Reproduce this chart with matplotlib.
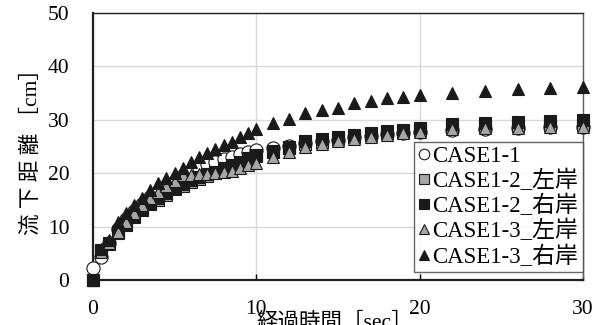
import numpy as np
import matplotlib.pyplot as plt
from matplotlib.lines import Line2D

plt.rcParams['font.family'] = ['Liberation Serif', 'Noto Sans CJK JP']

# === time axis [sec]: 0.5 s steps to 10, 1 s to 20, 2 s to 30 ===
t = np.array([0, 0.5, 1, 1.5, 2, 2.5, 3, 3.5, 4, 4.5, 5, 5.5, 6, 6.5, 7, 7.5, 8, 8.5, 9, 9.5, 10,
              11, 12, 13, 14, 15, 16, 17, 18, 19, 20,
              22, 24, 26, 28, 30])

# === flow distance [cm] ===
case1_1 = [2.2, 4.4, 7.0, 9.5, 11.5, 13.0, 14.3, 15.5, 16.5, 17.6, 18.6, 19.5, 20.3, 21.0, 21.7, 22.2,
           22.7, 23.1, 23.6, 24.0, 24.4,
           24.8, 25.2, 25.6, 26.0, 26.3, 26.7, 27.0, 27.3, 27.6, 27.8,
           28.1, 28.3, 28.5, 28.6, 28.7]
case1_2_left = [0.0, 5.4, 6.8, 8.8, 10.4, 11.8, 13.2, 14.2, 15.0, 16.0, 17.0, 17.7, 18.4, 19.0, 19.5,
                20.0, 20.7, 21.3, 21.9, 22.5, 23.2,
                23.9, 24.7, 25.4, 25.9, 26.4, 26.8, 27.1, 27.5, 27.8, 28.1,
                28.6, 28.8, 28.9, 29.0, 29.1]
case1_2_right = [0.0, 5.6, 7.0, 9.0, 10.6, 12.0, 13.4, 14.5, 15.3, 16.3, 17.3, 18.0, 18.7, 19.3, 19.8,
                 20.3, 21.0, 21.6, 22.2, 22.8, 23.5,
                 24.2, 25.0, 26.0, 26.5, 26.8, 27.2, 27.5, 27.9, 28.1, 28.5,
                 29.2, 29.5, 29.6, 29.8, 29.9]
case1_3_left = [0.0, 5.3, 7.0, 9.0, 10.8, 12.5, 14.0, 15.3, 16.5, 17.6, 18.6, 19.6, 19.7, 19.8, 19.9,
                20.0, 20.2, 20.5, 21.0, 21.5, 22.0,
                23.0, 24.0, 24.9, 25.5, 26.0, 26.4, 26.8, 27.2, 27.5, 27.8,
                28.2, 28.4, 28.5, 28.6, 28.7]
case1_3_right = [0.0, 5.8, 7.5, 10.9, 12.5, 14.0, 15.4, 16.9, 18.2, 19.1, 20.0, 21.0, 22.1, 23.0, 23.8,
                 24.5, 25.3, 25.9, 26.8, 27.5, 28.3,
                 29.4, 30.1, 31.3, 31.8, 32.2, 33.1, 33.5, 34.1, 34.3, 34.6,
                 35.0, 35.4, 35.8, 36.0, 36.2]

labels = ['CASE1-1', 'CASE1-2_左岸', 'CASE1-2_右岸', 'CASE1-3_左岸', 'CASE1-3_右岸']

gray = '#a6a6a6'
black = '#1a1a1a'
styles = [
    dict(marker='o', mfc='white', mec=black, ms=9.5),
    dict(marker='s', mfc=gray, mec=black, ms=8.5),
    dict(marker='s', mfc=black, mec=black, ms=8.5),
    dict(marker='^', mfc=gray, mec=black, ms=9),
    dict(marker='^', mfc=black, mec=black, ms=9),
]

fig = plt.figure(figsize=(6.04, 3.25), dpi=100)
ax = fig.add_axes([0.154, 0.138, 0.811, 0.822])

series = [case1_1, case1_2_left, case1_2_right, case1_3_left, case1_3_right]
for i, (y, st, lab) in enumerate(zip(series, styles, labels)):
    ax.plot(t, y, linestyle='none', mew=0.8, label=lab, zorder=3 + i, clip_on=False, **st)

ax.set_xlim(0, 30)
ax.set_ylim(0, 50)
ax.set_xticks([0, 10, 20, 30])
ax.set_yticks([0, 10, 20, 30, 40, 50])
ax.grid(True, color='#d9d9d9', linewidth=1.0)
ax.set_axisbelow(True)

ax.tick_params(axis='x', direction='in', length=4, width=1, pad=14, labelsize=15.5)
ax.tick_params(axis='y', length=0, pad=17, labelsize=15.5)

for side in ['left', 'bottom']:
    ax.spines[side].set_linewidth(1.6)
    ax.spines[side].set_color('#202020')
ax.spines['top'].set_linewidth(1.0)
ax.spines['top'].set_color('#202020')
ax.spines['right'].set_linewidth(1.0)
ax.spines['right'].set_color('#606060')

ax.set_ylabel('流 下 距 離 ［cm］', fontsize=15.5, labelpad=4)
fig.text(0.555, 0.04, '経過時間［sec］', fontsize=15.5, ha='center', va='top')

# legend with compact marker handles
handles = [Line2D([], [], linestyle='none', mew=0.8, marker=st['marker'], mfc=st['mfc'],
                  mec=st['mec'], markersize=st['ms'] * 0.8) for st in styles]
leg = ax.legend(handles, labels, loc='lower right', bbox_to_anchor=(1.0, 0.03),
                fontsize=16.5, frameon=True, fancybox=False, handlelength=0.5,
                handletextpad=0.1, borderpad=0.2, labelspacing=0.12, borderaxespad=0)
leg.get_frame().set_edgecolor('#404040')
leg.get_frame().set_linewidth(1.0)
leg.set_zorder(20)

fig.savefig('out.png', dpi=100)
